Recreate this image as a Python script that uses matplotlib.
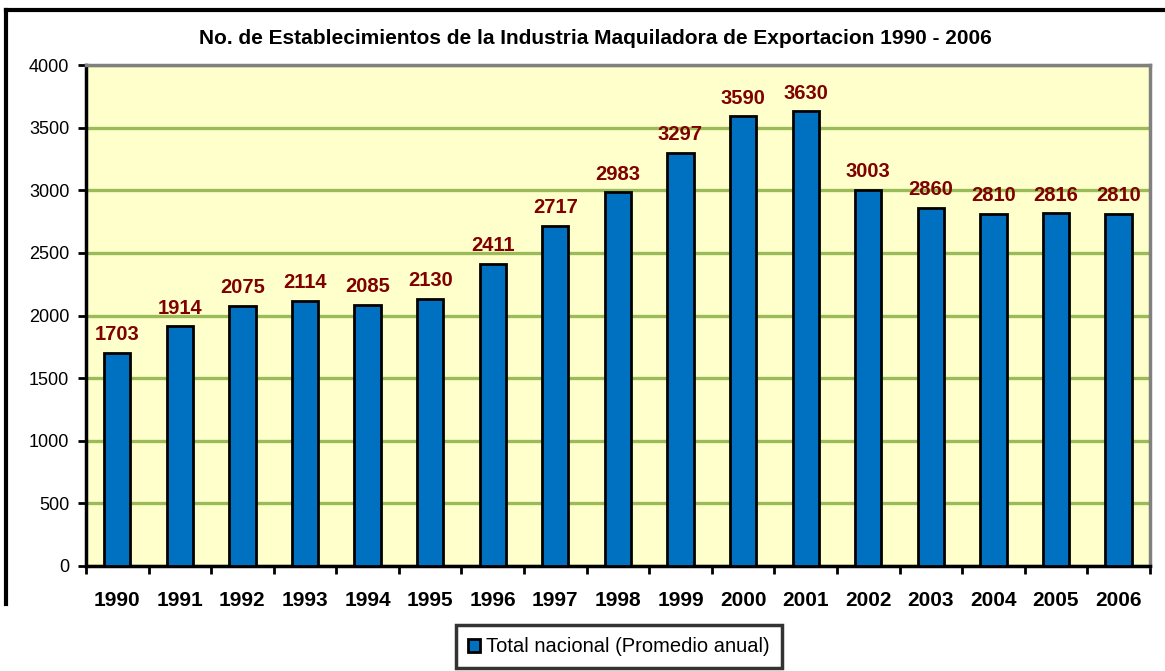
import matplotlib
matplotlib.use("Agg")
import matplotlib.pyplot as plt
import numpy as np

years = ["1990", "1991", "1992", "1993", "1994", "1995", "1996", "1997", "1998",
         "1999", "2000", "2001", "2002", "2003", "2004", "2005", "2006"]
values = [1703, 1914, 2075, 2114, 2085, 2130, 2411, 2717, 2983,
          3297, 3590, 3630, 3003, 2860, 2810, 2816, 2810]
yticks = [0, 500, 1000, 1500, 2000, 2500, 3000, 3500, 4000]
title = "No. de Establecimientos de la Industria Maquiladora de Exportacion 1990 - 2006"
legend_label = "Total nacional (Promedio anual)"

plt.rcParams['font.family'] = ['Liberation Sans', 'DejaVu Sans']

fig = plt.figure(figsize=(11.65, 6.71), dpi=100)
ax = fig.add_axes([0.0738, 0.1565, 0.9132, 0.7465])
ax.set_facecolor("#FFFFCC")

x = np.arange(len(years))
bars = ax.bar(x, values, width=0.42, color="#0070C0", edgecolor="black",
              linewidth=2, label=legend_label, zorder=3)

for xi, v in zip(x, values):
    ax.text(xi, v + 70, str(v), ha="center", va="bottom", fontsize=14.5,
            fontweight="bold", color="#800000", zorder=4)

ax.set_xlim(-0.5, len(years) - 0.5)
ax.set_ylim(0, 4000)
ax.set_yticks(yticks)
ax.set_yticklabels([str(t) for t in yticks], fontsize=13)
ax.yaxis.grid(True, color="#9BBB59", linewidth=2.4, zorder=1)
ax.set_axisbelow(True)

ax.set_xticks(x)
ax.set_xticklabels(years, fontsize=15, fontweight="bold")
ax.tick_params(axis="x", which="major", length=0, pad=18)
ax.set_xticks(np.arange(-0.5, len(years), 1), minor=True)
ax.tick_params(axis="x", which="minor", length=6, width=2, direction="out")
ax.tick_params(axis="y", length=6, width=2, direction="out", pad=6)

for s in ["left", "bottom"]:
    ax.spines[s].set_color("black")
    ax.spines[s].set_linewidth(2.5)
for s in ["top", "right"]:
    ax.spines[s].set_color("#808080")
    ax.spines[s].set_linewidth(2.5)

fig.text(0.511, 0.943, title, ha="center", va="center", fontsize=15, fontweight="bold")

leg = fig.legend(handles=[bars], labels=[legend_label], loc="center",
                 bbox_to_anchor=(0.531, 0.036), fontsize=14.5, frameon=True,
                 fancybox=False, edgecolor="black", handlelength=0.6,
                 handleheight=0.6, handletextpad=0.3, borderpad=0.6)
leg.get_frame().set_linewidth(2.5)

# outer chart frame (partially visible in reference)
fig.add_artist(plt.Line2D([0.005, 0.005], [0.10, 0.985], color="black", linewidth=3,
                          transform=fig.transFigure))
fig.add_artist(plt.Line2D([0.005, 1.0], [0.985, 0.985], color="black", linewidth=3,
                          transform=fig.transFigure))

fig.savefig("out.png", dpi=100)
